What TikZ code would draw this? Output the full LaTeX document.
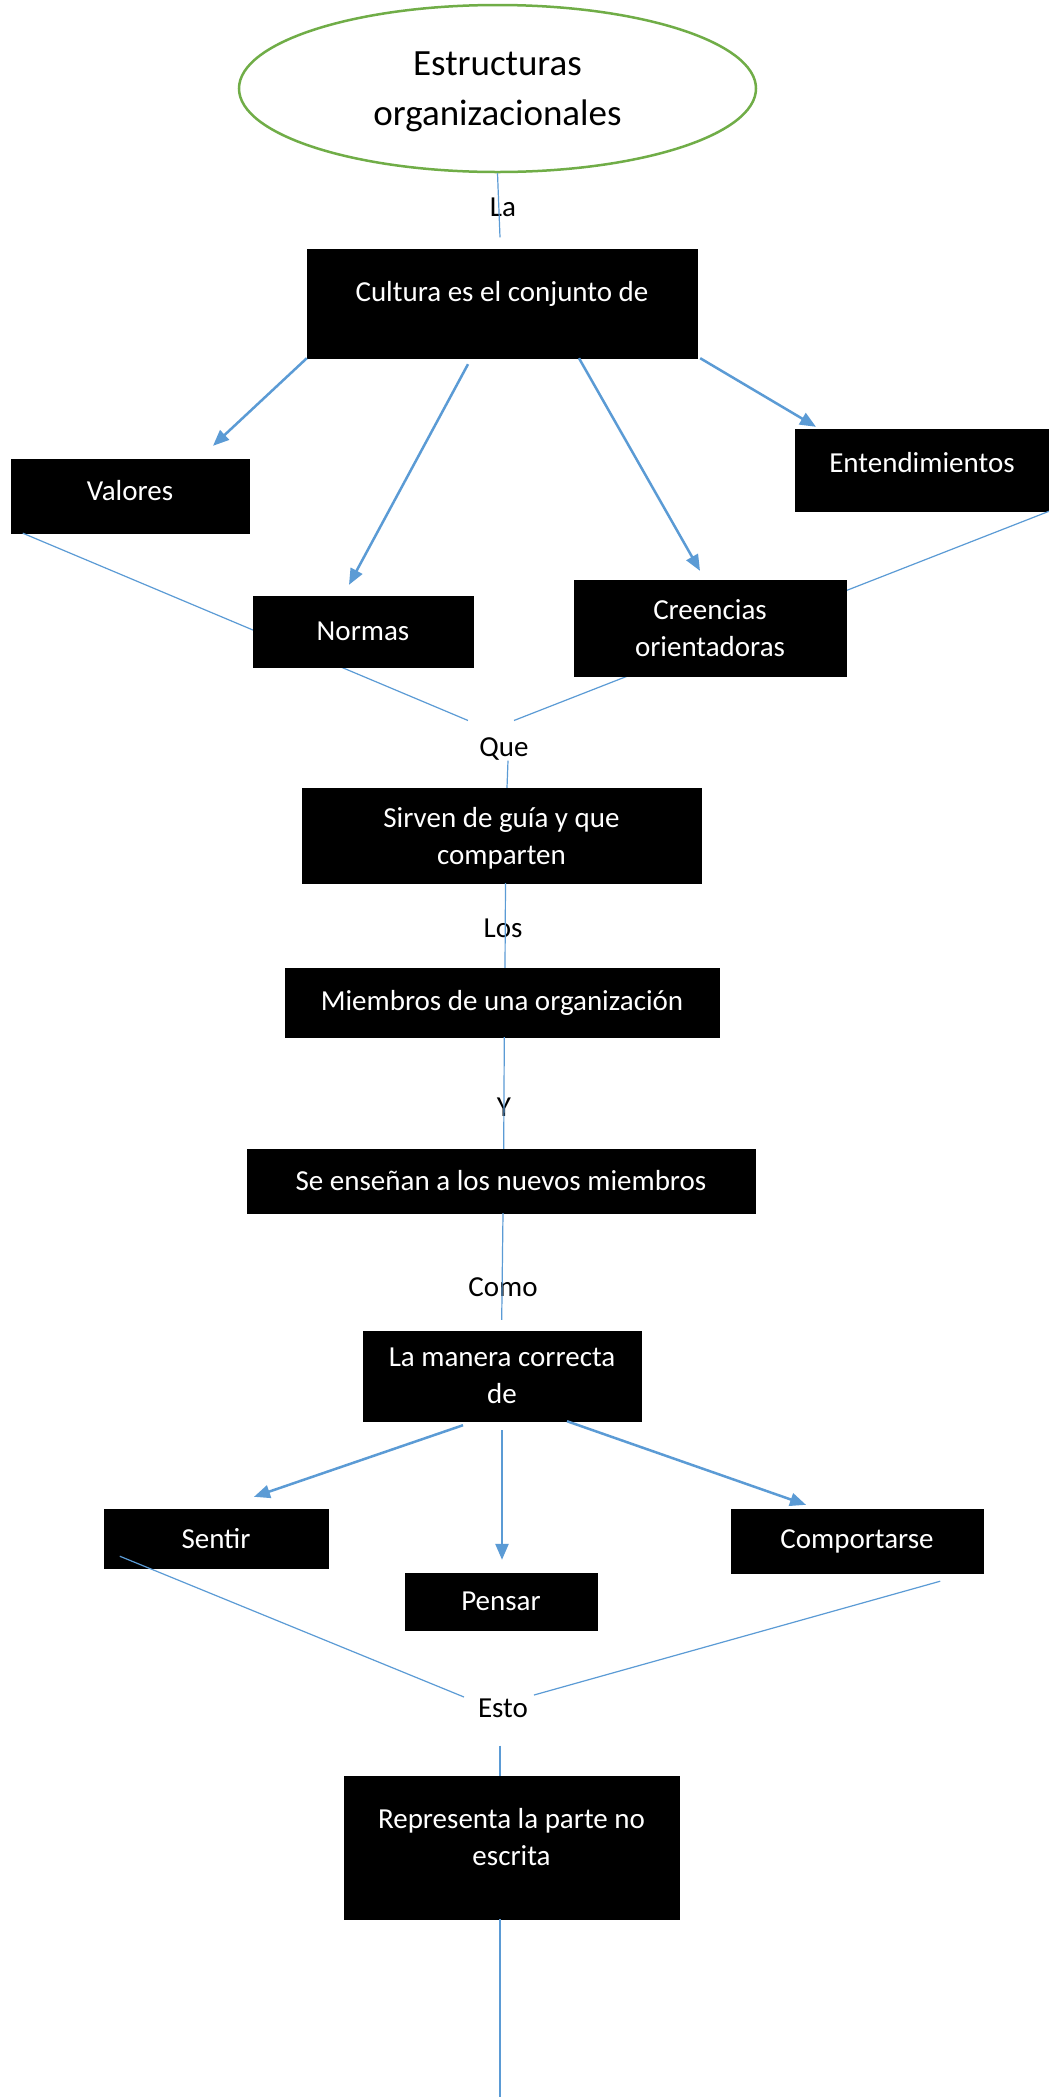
\documentclass[tikz,border=0pt]{standalone}
\usepackage{fontspec}
\setmainfont{Carlito}
\usetikzlibrary{arrows.meta, shapes.geometric}

\definecolor{lnblue}{HTML}{5B9BD5}
\definecolor{ovgreen}{HTML}{70AD47}

\begin{document}
\begin{tikzpicture}[
    x=1pt, y=-1pt,
    blk/.style={rectangle, draw=black, fill=black, text=white, align=center, inner sep=0pt, font=\fontsize{29}{37}\selectfont},
    wrd/.style={inner sep=0pt, font=\fontsize{29}{37}\selectfont},
    lnk/.style={draw=lnblue, line width=1.2pt},
    arr/.style={draw=lnblue, line width=2.5pt, -{Triangle[length=16pt, width=13pt]}}
  ]

  \path[use as bounding box, fill=white] (0,0) rectangle (1049,2097);

  \node[ellipse, draw=ovgreen, line width=2.5pt, minimum width=517, minimum height=167, inner sep=0pt, text depth=0pt, align=center, font=\fontsize{37}{50}\selectfont] (est) at (497.5,88.5) {Estructuras\\organizacionales};

  \node[blk, minimum width=390, minimum height=109, text depth=25pt] (cult) at (502,303.5) {Cultura es el conjunto de};
  \node[blk, minimum width=238, minimum height=74, text depth=11pt] (valo) at (130,496) {Valores};
  \node[blk, minimum width=254, minimum height=82, text depth=16pt] (ente) at (922,470) {Entendimientos};

  \node[wrd] (la) at (503,207.5) {La};
  \node[wrd] (que) at (504,749) {Que};

  \draw[lnk] (est.south) -- ([xshift=-2,yshift=11.5]cult.north);
  \draw[lnk] ([xshift=12]valo.south west) -- ([xshift=-36,yshift=17]que.north);
  \draw[lnk] (ente.south east) -- ([xshift=10,yshift=17]que.north);

  \node[blk, minimum width=220, minimum height=71] (norm) at (363,631.5) {Normas};
  \node[blk, minimum width=272, minimum height=96] (cree) at (710,628) {Creencias\\orientadoras};

  \draw[arr] (cult.south west) -- ([xshift=83,yshift=13]valo.north);
  \draw[arr] ([xshift=-34,yshift=-6]cult.south) -- ([xshift=-14,yshift=11]norm.north);
  \draw[arr] ([xshift=77]cult.south) -- ([xshift=-10,yshift=9]cree.north);
  \draw[arr] ([xshift=3]cult.south east) -- ([xshift=-106,yshift=2]ente.north);

  \node[blk, minimum width=399, minimum height=95, text depth=0pt] (sirv) at (501.5,835.5) {Sirven de guía y que\\comparten};
  \node[wrd] (los) at (503,928) {Los};
  \node[blk, minimum width=434, minimum height=69] (miem) at (502,1002.5) {Miembros de una organización};
  \node[wrd] (y) at (504,1107) {Y};
  \node[blk, minimum width=508, minimum height=64] (sene) at (501,1181) {Se enseñan a los nuevos miembros};
  \node[wrd] (como) at (503,1287) {Como};
  \node[blk, minimum width=278, minimum height=90, text depth=0pt] (lman) at (502,1376) {La manera correcta\\de};

  \draw[lnk] ([xshift=4]que.south) -- ([xshift=5.5]sirv.north);
  \draw[lnk] ([xshift=4]sirv.south) -- ([xshift=3]miem.north);
  \draw[lnk] ([xshift=2.3]miem.south) -- ([xshift=2.7]sene.north);
  \draw[lnk] ([xshift=2]sene.south) -- ([xshift=-0.3,yshift=11]lman.north);

  \node[blk, minimum width=224, minimum height=59] (sent) at (216,1538.5) {Sentir};
  \node[blk, minimum width=192, minimum height=57] (pens) at (501,1601.5) {Pensar};
  \node[blk, minimum width=252, minimum height=64] (comp) at (857,1541) {Comportarse};

  \draw[arr] ([xshift=-39,yshift=-4]lman.south) -- ([xshift=38,yshift=12]sent.north);
  \draw[arr] ([yshift=-9]lman.south) -- ([xshift=1,yshift=13]pens.north);
  \draw[arr] ([xshift=65]lman.south) -- ([xshift=-51,yshift=4]comp.north);

  \node[wrd] (esto) at (503,1708) {Esto};
  \node[blk, minimum width=335, minimum height=143, text depth=21pt] (repr) at (511.5,1847.5) {Representa la parte no\\escrita};
  \coordinate (bot) at (500,2097);

  \draw[lnk] ([xshift=16,yshift=12]sent.south west) -- ([xshift=-39,yshift=11]esto.center);
  \draw[lnk] ([xshift=-43,yshift=-8]comp.south east) -- ([xshift=31,yshift=13]esto.center);
  \draw[lnk] ([xshift=-3,yshift=-37.5]esto.center) -- ([xshift=-11.5]repr.north);
  \draw[lnk] ([xshift=-11.5]repr.south) -- (bot);

\end{tikzpicture}
\end{document}
